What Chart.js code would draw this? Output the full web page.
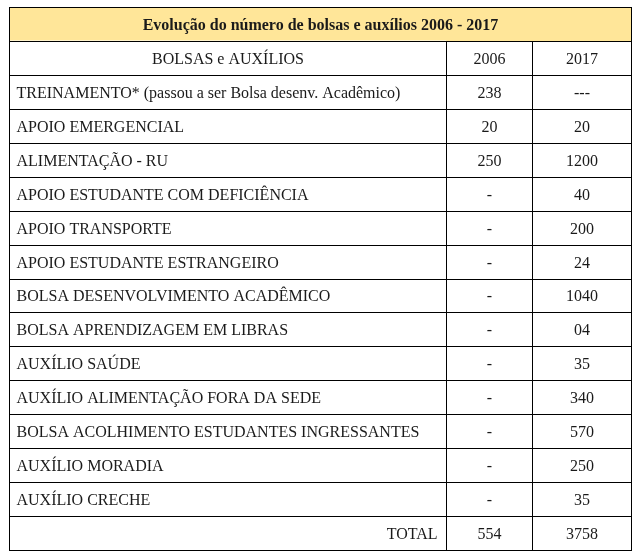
<!DOCTYPE html>
<html>
<head>
<meta charset="utf-8">
<script src="https://cdn.jsdelivr.net/npm/chart.js@4"></script>
<style>
  html, body { margin: 0; padding: 0; background: #fff; }
  #wrap { width: 639px; height: 559px; }
</style>
</head>
<body>
<div id="wrap"><canvas id="tableChart" width="639" height="559"></canvas></div>
<script>
// Table contents
const title = "Evolução do número de bolsas e auxílios 2006 - 2017";
const headers = ["BOLSAS e AUXÍLIOS", "2006", "2017"];
const categories = [
    "TREINAMENTO* (passou a ser Bolsa desenv. Acadêmico)",
    "APOIO EMERGENCIAL",
    "ALIMENTAÇÃO - RU",
    "APOIO ESTUDANTE COM DEFICIÊNCIA",
    "APOIO TRANSPORTE",
    "APOIO ESTUDANTE ESTRANGEIRO",
    "BOLSA DESENVOLVIMENTO ACADÊMICO",
    "BOLSA APRENDIZAGEM EM LIBRAS",
    "AUXÍLIO SAÚDE",
    "AUXÍLIO ALIMENTAÇÃO FORA DA SEDE",
    "BOLSA ACOLHIMENTO ESTUDANTES INGRESSANTES",
    "AUXÍLIO MORADIA",
    "AUXÍLIO CRECHE"
];
const values2006 = ["238", "20", "250", "-", "-", "-", "-", "-", "-", "-", "-", "-", "-"];
const values2017 = ["---", "20", "1200", "40", "200", "24", "1040", "04", "35", "340", "570", "250", "35"];
const totalLabel = "TOTAL";
const totals = ["554", "3758"];

// Column edges on the x scale (table width in px units)
const colEdges = [0, 437, 523, 622];

// one y category per table row
const rowKeys = ["title", "header"].concat(categories.map((c, i) => "r" + i), ["total"]);
const nRows = rowKeys.length;

// cell text for each row and column
const labelTexts = [title, headers[0]].concat(categories, [totalLabel]);
const texts2006 = [null, headers[1]].concat(values2006, [totals[0]]);
const texts2017 = [null, headers[2]].concat(values2017, [totals[1]]);

const firstCol = rowKeys.map((k, i) => i === 0 ? [colEdges[0], colEdges[3]] : [colEdges[0], colEdges[1]]);
const col2006 = rowKeys.map((k, i) => i === 0 ? null : [colEdges[1], colEdges[2]]);
const col2017 = rowKeys.map((k, i) => i === 0 ? null : [colEdges[2], colEdges[3]]);

const YELLOW = "#FFE699";
const TEXT = "#1a1a1a";
const FONT = "16px 'Liberation Serif', 'Times New Roman', serif";

// Draw cell borders and text on top of the bars
const cellPlugin = {
    id: "cells",
    afterDatasetsDraw(chart) {
        const ctx = chart.ctx;
        const cols = [labelTexts, texts2006, texts2017];
        ctx.save();
        ctx.strokeStyle = "#000";
        ctx.lineWidth = 1;
        ctx.textBaseline = "middle";
        ctx.fillStyle = TEXT;

        cols.forEach((texts, d) => {
            const meta = chart.getDatasetMeta(d);
            meta.data.forEach((bar, i) => {
                if (!chart.data.datasets[d].data[i]) return;
                const left = Math.round(Math.min(bar.x, bar.base)) + 0.5;
                const right = Math.round(Math.max(bar.x, bar.base)) + 0.5;
                const top = Math.round(bar.y - bar.height / 2) + 0.5;
                const bottom = Math.round(bar.y + bar.height / 2) + 0.5;
                ctx.strokeRect(left, top, right - left, bottom - top);

                const t = texts[i];
                if (t == null) return;
                const cy = (top + bottom) / 2 + 1;
                ctx.font = FONT;
                if (i === 0) {
                    ctx.font = "bold " + FONT;
                    ctx.textAlign = "center";
                    ctx.fillText(t, (left + right) / 2, cy);
                } else if (d === 0 && i === nRows - 1) {
                    ctx.textAlign = "right";
                    ctx.fillText(t, right - 9, cy);
                } else if (d === 0 && i > 1) {
                    ctx.textAlign = "left";
                    ctx.fillText(t, left + 7, cy);
                } else {
                    ctx.textAlign = "center";
                    ctx.fillText(t, (left + right) / 2, cy);
                }
            });
        });
        ctx.restore();
    }
};

const ctx = document.getElementById("tableChart").getContext("2d");
new Chart(ctx, {
    type: "bar",
    data: {
        labels: rowKeys,
        datasets: [
            { label: "BOLSAS e AUXÍLIOS", data: firstCol,
              backgroundColor: rowKeys.map((k, i) => i === 0 ? YELLOW : "#ffffff") },
            { label: "2006", data: col2006, backgroundColor: "#ffffff" },
            { label: "2017", data: col2017, backgroundColor: "#ffffff" }
        ]
    },
    options: {
        indexAxis: "y",
        responsive: false,
        animation: false,
        layout: { padding: { left: 9, right: 8, top: 7, bottom: 9 } },
        datasets: { bar: { grouped: false, barPercentage: 1, categoryPercentage: 1, borderWidth: 0 } },
        scales: {
            x: { type: "linear", min: colEdges[0], max: colEdges[3], display: false },
            y: { type: "category", display: false }
        },
        plugins: { legend: { display: false }, tooltip: { enabled: false } }
    },
    plugins: [cellPlugin]
});
</script>
</body>
</html>
